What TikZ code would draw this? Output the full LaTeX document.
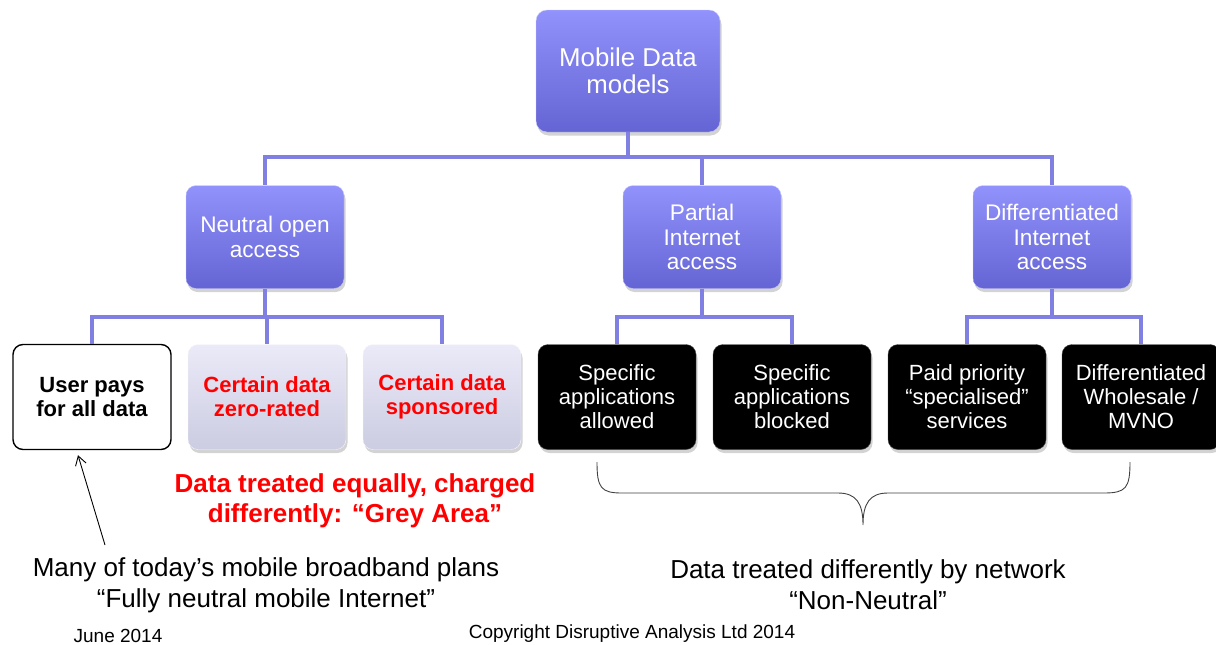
\documentclass[tikz,border=0pt]{standalone}
\usepackage{fontspec}
\setmainfont{Liberation Sans}
\usetikzlibrary{arrows.meta, shadows}
\definecolor{boxtop}{RGB}{146,146,252}
\definecolor{boxbot}{RGB}{100,100,212}
\definecolor{linkcol}{RGB}{128,128,226}
\definecolor{greytop}{RGB}{234,234,248}
\definecolor{greybot}{RGB}{204,204,226}
\definecolor{alertred}{RGB}{255,0,0}
\tikzset{
  shade/.style={drop shadow={shadow xshift=1.5pt, shadow yshift=-3.5pt, opacity=0.35}},
  topbox/.style={shade, rounded corners=11pt, top color=boxtop, bottom color=boxbot, draw=boxtop!50!white, text=white, align=center, minimum width=184pt, minimum height=122pt, font=\fontsize{25.8}{27}\selectfont},
  midbox/.style={shade, rounded corners=10pt, top color=boxtop, bottom color=boxbot, draw=boxtop!50!white, text=white, align=center, minimum width=158pt, minimum height=103pt, font=\fontsize{22.6}{24.5}\selectfont},
  userbox/.style={rounded corners=10pt, fill=white, draw=black, line width=1.4pt, align=center, minimum width=158pt, minimum height=105pt, font=\bfseries\fontsize{22}{24}\selectfont},
  greybox/.style={shade, rounded corners=10pt, top color=greytop, bottom color=greybot, draw=white!85!greybot, text=alertred, align=center, minimum width=158pt, minimum height=105pt, font=\bfseries\fontsize{22}{24}\selectfont},
  blackbox/.style={shade, rounded corners=10pt, fill=black, draw=black!70, text=white, align=center, minimum width=158pt, minimum height=105pt, font=\fontsize{22}{24}\selectfont},
  link/.style={draw=linkcol, line width=3.5pt},
  pointer/.style={draw=black, line width=0.9pt, -{Straight Barb[length=9pt,width=11pt]}},
  bracepath/.style={draw=black!75, line width=0.9pt},
  note/.style={align=center, font=\fontsize{26}{31}\selectfont},
  small/.style={font=\fontsize{19}{22}\selectfont}
}
\begin{document}
\begin{tikzpicture}[x=1pt, y=-1pt]
\useasboundingbox (0,0) rectangle (1216,645);

\node[topbox] (top) at (628,71) {Mobile Data\\models};

\node[midbox] (neutral) at (265,237) {Neutral open\\access};
\node[midbox] (partial) at (702,237) {Partial\\Internet\\access};
\node[midbox] (diff) at (1052,237) {Differentiated\\Internet\\access};

\node[userbox] (user) at (92,397) {User pays\\for all data};
\node[greybox] (zero) at (267,397) {Certain data\\zero-rated};
\node[greybox] (spons) at (442,397) {Certain data\\sponsored};
\node[blackbox] (allowed) at (617,397) {Specific\\applications\\allowed};
\node[blackbox] (blocked) at (792,397) {Specific\\applications\\blocked};
\node[blackbox] (paid) at (967,397) {Paid priority\\“specialised”\\services};
\node[blackbox] (mvno) at (1141,397) {Differentiated\\Wholesale /\\MVNO};

\coordinate (j0) at (628,157);
\coordinate (j1) at (265,317);
\coordinate (j2) at (702,317);
\coordinate (j3) at (1052,317);

\path[link] (top.south) -- (j0) -| (neutral.north);
\path[link] (j0) -| (partial.north);
\path[link] (j0) -| (diff.north);
\path[link] (neutral.south) -- (j1) -| (user.north);
\path[link] (j1) -| (zero.north);
\path[link] (j1) -| (spons.north);
\path[link] (partial.south) -- (j2) -| (allowed.north);
\path[link] (j2) -| (blocked.north);
\path[link] (diff.south) -- (j3) -| (paid.north);
\path[link] (j3) -| (mvno.north);

\node[align=center, text=alertred, font=\bfseries\fontsize{26}{30}\selectfont] (grey) at (355,501) {Data treated equally, charged\\differently: “Grey Area”};

\node[note] (many) at (266,585) {Many of today’s mobile broadband plans\\“Fully neutral mobile Internet”};
\node[note] (nonneutral) at (868,585) {Data treated differently by network\\“Non-Neutral”};

\coordinate (ptail) at (105,545);
\path[pointer] (ptail) -- ([xshift=-14pt, yshift=-5pt]user.south);

\path[bracepath] (597,462) .. controls (597,488) and (601,493) .. (622,493) -- (838,493)
  .. controls (856,493) and (863,503) .. (863,525)
  .. controls (863,503) and (870,493) .. (888,493) -- (1104,493)
  .. controls (1126,493) and (1130,488) .. (1130,462);

\node[small] (june) at (118,636) {June 2014};
\node[small] (copy) at (632,634) {Copyright Disruptive Analysis Ltd 2014};
\end{tikzpicture}
\end{document}
